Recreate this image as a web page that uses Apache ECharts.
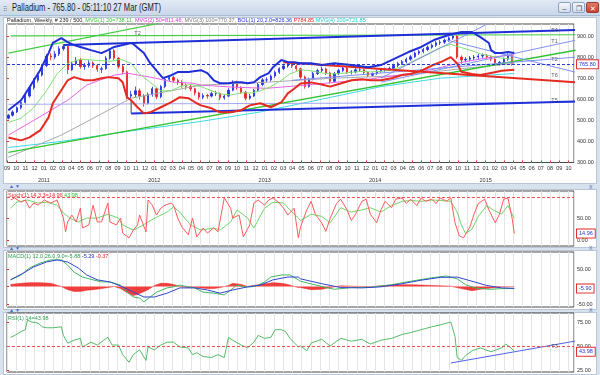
<!DOCTYPE html>
<html><head><meta charset="utf-8">
<script src="https://cdn.jsdelivr.net/npm/echarts@6/dist/echarts.min.js"></script>
<style>
body{margin:0;width:600px;height:375px;overflow:hidden;background:#d8e2ee;font-family:'Liberation Sans',Arial,sans-serif;position:relative}
#titlebar{position:absolute;left:0;top:0;width:600px;height:16px;background:linear-gradient(#e2eaf5,#c9d7ea);border-bottom:1px solid #aabbd2;box-sizing:border-box}
#ttl{position:absolute;left:12px;top:2px;font-size:10px;color:#1a1a1a;white-space:nowrap;transform:scaleX(.76);transform-origin:left top}
#grip{position:absolute;left:3px;top:5px;font-size:6px;color:#556;letter-spacing:-1px}
.btn{position:absolute;top:2px;height:11px;width:13px;border:1px solid #8ea2bf;border-radius:2px;background:linear-gradient(#f4f7fb,#d3dded);font-size:7px;line-height:11px;text-align:center;color:#445;box-sizing:border-box}
.panel{position:absolute;left:3px;width:594px;background:#fff;border:1px solid #b9c6d6;box-sizing:border-box}
.sep{position:absolute;left:9px;font-size:5px;color:#3f6fc4;letter-spacing:1px}
.cls{position:absolute;left:589px;font-size:7px;color:#5a7bb0}
#chart{position:absolute;left:0;top:0;width:600px;height:375px}
</style></head>
<body>
<div id="titlebar"><span id="grip">⠿</span><span id="ttl">Palladium - 765.80 - 05:11:10 27 Mar (GMT)</span>
<div class="btn" style="left:558px">–</div><div class="btn" style="left:572px">❐</div><div class="btn" style="left:586px;background:linear-gradient(#e07a6c,#c5402f);color:#fff;border-color:#9b3a2e">✕</div></div>
<div class="panel" style="top:17px;height:167px"></div>
<div class="panel" style="top:189px;height:59px"></div>
<div class="panel" style="top:250px;height:60px"></div>
<div class="panel" style="top:312px;height:63px"></div>
<div class="sep" style="top:183px">▲▼</div>
<div class="sep" style="top:245px">▲▼</div>
<div class="sep" style="top:307px">▲▼</div>
<div class="cls" style="top:183px">x</div>
<div class="cls" style="top:244px">x</div>
<div class="cls" style="top:306px">x</div>
<div id="chart"></div>
<script>
// ---------- DATA (week index from Sep 6 2010, values) ----------
const candles = [
[0,510,524,505,530],[2,524,540,518,548],[4,540,560,535,566],[6,560,585,552,592],[8,585,615,580,622],
[10,615,655,608,664],[12,655,690,645,700],[14,690,715,680,726],[16,715,760,708,768],[18,760,805,752,815],
[20,805,800,785,820],[22,800,815,790,828],[24,815,840,805,852],[26,840,850,830,860],[28,850,740,720,855],
[30,740,768,735,778],[32,768,786,760,800],[34,786,755,745,795],[36,755,760,740,772],[38,760,772,750,785],
[40,772,760,748,780],[42,760,742,730,768],[44,742,745,725,755],[46,745,795,740,805],[48,795,830,788,842],
[50,830,795,785,838],[52,795,755,745,800],[54,755,730,718,765],[56,730,615,600,735],[58,615,622,598,640],
[60,622,640,610,660],[62,640,615,598,650],[64,615,580,565,625],[66,580,622,575,632],[68,622,650,612,660],
[70,650,612,600,655],[72,612,660,605,668],[74,660,695,652,705],[76,695,703,685,712],[78,703,690,680,712],
[80,690,681,668,698],[82,681,668,655,690],[84,668,660,645,675],[86,660,650,638,668],[88,650,630,618,655],
[90,630,610,598,636],[92,610,618,600,628],[94,618,615,603,626],[96,615,627,608,636],[98,627,628,615,640],
[100,628,607,595,632],[102,607,615,598,622],[104,615,643,610,652],[106,643,680,638,690],[108,680,655,645,688],
[110,655,633,625,662],[112,633,605,595,640],[114,605,615,598,625],[116,615,643,610,650],[118,643,670,638,678],
[120,670,692,662,700],[122,692,692,680,705],[124,692,710,685,718],[126,710,728,702,736],[128,728,745,720,752],
[130,745,758,738,768],[132,758,770,750,780],[134,770,758,748,778],[136,758,745,735,765],[138,745,705,695,750],
[140,705,660,650,712],[142,660,695,655,702],[144,695,722,690,730],[146,722,736,715,745],[148,736,743,728,755],
[150,743,725,715,750],[152,725,685,675,730],[154,685,722,680,730],[156,722,736,715,745],[158,736,748,728,758],
[160,748,728,720,755],[162,728,730,718,738],[164,730,740,722,748],[166,740,740,730,750],[168,740,727,718,745],
[170,727,714,705,732],[172,714,722,708,728],[174,722,733,715,740],[176,733,738,726,745],[178,738,744,730,750],
[180,744,746,735,755],[182,746,760,740,768],[184,760,770,752,778],[186,770,778,762,786],[188,778,790,770,798],
[190,790,802,782,810],[192,802,819,795,826],[194,819,826,810,834],[196,826,836,818,844],[198,836,847,828,855],
[200,847,856,840,864],[202,856,868,848,876],[204,868,871,858,880],[206,871,880,862,888],[208,880,890,872,898],
[210,890,900,882,910],[212,900,800,792,905],[214,800,786,768,808],[216,786,790,775,800],[218,790,796,780,805],
[220,796,800,786,810],[222,800,805,790,815],[224,805,808,795,818],[226,808,802,792,815],[228,802,790,780,808],
[230,790,771,762,795],[232,771,775,760,782],[234,775,790,768,798],[236,790,808,782,818],[238,808,766,760,812]];

const bbUpper = [[0,548],[6,595],[10,657],[15,738],[19,819],[21,867],[25,890],[28,871],[31,857],[34,848],[39,833],[44,819],[47,833],[50,848],[54,857],[58,867],[59,862],[64,819],[67,771],[71,724],[73,700],[77,714],[80,729],[85,729],[91,738],[94,724],[97,690],[100,676],[104,676],[107,681],[110,681],[113,676],[116,681],[119,705],[123,724],[125,752],[129,786],[132,776],[135,776],[138,771],[143,771],[148,762],[154,771],[162,762],[170,752],[176,762],[182,790],[189,824],[195,848],[201,881],[208,905],[214,919],[219,919],[223,895],[227,867],[228,833],[230,819],[233,819],[236,824],[239,819]];
const bbLower = [[0,419],[2,414],[6,405],[10,419],[15,452],[19,514],[21,581],[25,643],[28,690],[31,705],[36,690],[40,690],[44,700],[47,705],[52,700],[54,681],[56,610],[58,595],[61,562],[64,533],[67,538],[72,562],[77,586],[81,610],[85,605],[89,581],[91,571],[96,557],[100,538],[105,538],[110,548],[114,571],[119,581],[124,562],[129,586],[132,628],[135,650],[138,675],[143,680],[148,670],[152,660],[157,675],[162,690],[167,695],[171,690],[176,690],[181,700],[186,715],[190,720],[195,735],[200,760],[205,780],[209,800],[212,770],[214,730],[219,720],[223,715],[228,725],[233,735],[239,740]];
const ma20 = [[0,490],[6,510],[12,560],[18,640],[23,720],[28,770],[34,790],[41,785],[48,780],[53,790],[58,770],[62,720],[67,680],[72,640],[77,640],[81,660],[86,670],[91,660],[96,640],[100,625],[105,620],[110,630],[115,630],[119,640],[124,660],[129,690],[133,720],[138,740],[143,735],[148,725],[152,720],[157,722],[162,728],[167,732],[171,730],[176,732],[181,740],[186,755],[190,775],[195,800],[200,825],[204,845],[209,860],[214,845],[219,830],[223,815],[228,805],[233,795],[239,790]];
const ma50 = [[0,430],[12,500],[28,595],[37,667],[43,690],[50,714],[56,724],[67,705],[78,681],[87,676],[91,667],[107,657],[122,652],[138,665],[154,680],[170,695],[185,715],[200,740],[214,775],[228,800],[239,811]];
const ma100 = [[0,325],[25,430],[58,605],[91,667],[122,681],[154,700],[185,712],[214,745],[239,770]];
const ma200 = [[0,371],[25,400],[58,450],[91,495],[119,540],[148,600],[176,660],[204,700],[239,722]];

// drawn trend lines: [[week, price],[week, price]]
const chanTop = [[26,857],[268,929]];
const chanBot = [[58,533],[268,590]];
const chanEdge = [[58,533],[58,595]];
const greenTop = [[1,901],[268,906]];
const greenSteep = [[0,819],[72,962]];
const greenLow = [[0,348],[268,833]];
const redTrend = [[130,776],[268,681]];
const fanA = [[176,700],[230,976]];
const fanB = [[176,681],[268,880]];
const fanC = [[207,881],[268,728]];
const fanD = [[134,690],[268,800]];
const lavender = [[0,576],[268,585]];
const lastPrice = 765.8;
const tags = [['T2',61,912],['T4',258,926],['T1',258,872],['T2',258,790],['T6',258,712],['T5',258,592]];

const stochK = [[1,93],[3,98],[6,88],[8,93],[10,74],[12,86],[14,81],[17,93],[20,86],[23,93],[26,51],[27,19],[28,42],[30,58],[32,42],[34,74],[35,28],[38,35],[40,81],[42,42],[44,42],[47,86],[48,42],[51,35],[53,51],[54,16],[57,5],[59,23],[61,35],[62,58],[65,19],[66,93],[68,81],[70,58],[72,74],[74,81],[77,86],[78,81],[80,51],[82,30],[85,12],[87,51],[89,7],[92,28],[94,16],[97,28],[99,19],[102,98],[105,74],[106,51],[109,58],[111,7],[114,35],[116,86],[118,93],[121,81],[123,93],[125,98],[128,86],[130,74],[132,58],[135,74],[137,5],[138,30],[141,70],[143,90],[145,60],[148,40],[150,20],[152,50],[155,85],[157,95],[160,70],[162,45],[164,60],[167,90],[169,95],[171,60],[174,40],[176,70],[178,90],[181,75],[183,95],[186,98],[188,85],[190,95],[193,80],[195,98],[197,90],[200,95],[202,85],[204,98],[207,90],[209,98],[211,40],[213,10],[215,5],[218,30],[220,60],[222,85],[225,95],[227,70],[230,40],[232,60],[234,95],[236,98],[238,50],[239,15]];
const stochD = [[1,74],[4,88],[9,93],[14,86],[18,88],[23,81],[26,63],[29,51],[33,42],[37,51],[42,51],[47,60],[52,51],[54,35],[59,23],[62,30],[66,42],[70,53],[75,65],[78,77],[81,65],[86,35],[91,23],[97,28],[100,23],[105,42],[108,70],[113,51],[116,28],[121,74],[125,88],[130,86],[133,70],[137,51],[138,45],[143,60],[148,55],[152,40],[157,75],[162,65],[167,70],[171,75],[176,65],[181,80],[186,90],[190,92],[195,90],[200,93],[204,92],[209,90],[212,65],[214,35],[216,15],[219,25],[222,55],[226,80],[229,70],[233,60],[236,80],[239,50]];
const stochLevel = 100, stochLast = 14.96;

const macdLine = [[1,19],[6,33],[10,53],[15,67],[20,76],[25,76],[28,61],[31,41],[35,27],[40,19],[44,13],[48,13],[53,4],[56,-16],[59,-30],[62,-33],[64,-44],[67,-30],[70,-16],[75,-4],[78,-1],[81,4],[85,-1],[88,-4],[92,-16],[97,-19],[102,-24],[105,-10],[108,4],[111,-1],[115,-1],[118,4],[121,13],[124,27],[129,33],[133,33],[137,19],[138,15],[148,0],[154,-8],[162,-3],[171,-2],[181,5],[190,15],[200,25],[207,30],[212,22],[216,5],[221,-5],[228,-8],[233,-6],[239,-5.9]];
const macdSignal = [[1,19],[7,38],[12,56],[18,70],[23,76],[28,70],[33,53],[37,33],[42,19],[48,13],[54,-1],[59,-16],[64,-30],[69,-30],[75,-19],[81,-4],[88,-4],[94,-10],[100,-19],[106,-10],[113,-1],[119,4],[125,19],[132,27],[137,27],[138,22],[148,8],[157,-3],[167,-4],[176,-1],[186,8],[195,18],[204,26],[212,27],[219,15],[226,3],[233,-4],[239,-5.3]];
const macdHist = [[1,6],[6,9],[10,11],[15,11],[20,9],[25,0],[28,-9],[31,-14],[34,-14],[37,-11],[40,-9],[44,-6],[47,-3],[50,0],[53,-6],[56,-17],[59,-26],[62,-20],[66,-9],[69,3],[72,9],[75,9],[78,6],[81,0],[85,-3],[88,-3],[91,-4],[94,-6],[97,-6],[100,-3],[104,3],[106,9],[110,6],[113,0],[116,3],[119,6],[123,9],[125,11],[129,9],[132,6],[135,0],[137,-3],[138,-3],[143,-9],[148,-8],[152,-3],[157,2],[162,1],[167,0],[171,-1],[176,2],[181,4],[186,5],[190,5],[195,4],[200,3],[204,2],[209,1],[214,-6],[219,-12],[223,-8],[228,-4],[233,-1],[239,-0.4]];
const macdLast = -5.90;

const rsi = [[1,59],[3,61],[6,65],[8,67],[9,77],[11,75],[14,74],[16,70],[18,69],[21,69],[25,70],[26,61],[28,53],[31,56],[34,58],[35,49],[39,54],[42,51],[45,56],[47,59],[49,51],[52,51],[54,41],[57,33],[59,41],[62,46],[65,35],[66,49],[69,46],[72,51],[75,54],[78,54],[81,49],[85,48],[87,41],[89,43],[92,39],[96,38],[99,41],[102,38],[104,59],[106,56],[110,51],[113,48],[116,54],[118,61],[121,58],[124,59],[126,67],[129,67],[131,65],[133,58],[137,49],[138,50],[141,45],[143,53],[148,57],[152,50],[157,58],[162,55],[167,57],[171,52],[176,56],[181,58],[186,62],[190,64],[195,67],[200,70],[204,72],[209,75],[211,60],[212,38],[214,35],[216,40],[219,45],[223,48],[228,44],[233,48],[235,52],[238,47],[239,44]];
const rsiTrend = [[209,32.3],[268,55.2]];
const rsiLevel = 50, rsiLast = 43.98;

// ---------- CHART ----------
const W2T = w => 0.15 + w * 12 / 52.18;
const P = arr => arr.map(p => [W2T(p[0]), p[1]]);
const FONT = 'Liberation Sans';

const monthLbl = v => {
  if (Math.abs(v - Math.round(v)) > 1e-6) return '';
  v = Math.round(v);
  const m = (v + 8) % 12 + 1, y = 2010 + Math.floor((v + 8) / 12);
  const mm = (m < 10 ? '0' : '') + m;
  return m === 1 ? '{m|' + mm + '}\n{y|' + y + '}' : '{m|' + mm + '}';
};

const grids = [
  {left:7, top:24, width:567, height:138.5},
  {left:7, top:191, width:567, height:55},
  {left:7, top:252, width:567, height:55},
  {left:7, top:313, width:567, height:59}
].map(g => Object.assign({show:true, borderColor:'#4a4a4a', borderWidth:1, backgroundColor:'transparent'}, g));

const xAxes = [0,1,2,3].map(i => ({
  type:'value', gridIndex:i, min:0, max:61.6, interval:1,
  axisLine:{show:false},
  axisTick:{show:i===0, inside:true, length:2, lineStyle:{color:'#e03030'}},
  axisLabel:{show:i===0, margin:2, fontSize:5.5, showMaxLabel:false, formatter:monthLbl,
    rich:{m:{fontSize:5.5, lineHeight:8, color:'#333', fontFamily:FONT}, y:{fontSize:5.5, lineHeight:16, color:'#333', fontFamily:FONT}}},
  splitLine:{show:true, lineStyle:{color:'#e4e4e4', width:1}}
}));

function yAx(i, min, max, vals){
  return {type:'value', gridIndex:i, position:'right', min:min, max:max,
    axisLine:{show:false}, splitLine:{show:false},
    axisTick:{show:true, length:2, customValues:vals, lineStyle:{color:'#e03030'}},
    axisLabel:{customValues:vals, fontSize:5.5, color:'#333', margin:3, fontFamily:FONT, formatter:v => v.toFixed(2)}};
}
const yAxes = [
  yAx(0, 300, 957, [300,400,500,600,700,800,900]),
  yAx(1, -14, 114, [0,50]),
  yAx(2, -58.6, 98.6, [-50,0,50]),
  yAx(3, 22.9, 84.4, [25,50,75])
];

const boxLabel = txt => ({position:'end', formatter:txt, color:'#2233cc', fontSize:5.5, fontFamily:FONT,
  backgroundColor:'#fff', borderColor:'#e03030', borderWidth:1, padding:[1,2], distance:3});

const L = (g, data, color, width, extra) => Object.assign({
  type:'line', xAxisIndex:g, yAxisIndex:g, data:P(data), showSymbol:false, symbol:'none',
  lineStyle:{color:color, width:width}, silent:true, z:3, clip:true
}, extra || {});

const series = [
  {type:'candlestick', xAxisIndex:0, yAxisIndex:0, dimensions:['t','open','close','lowest','highest'],
   encode:{x:'t', y:['open','close','lowest','highest']},
   data: candles.map(c => [W2T(c[0]), c[1], c[2], c[3], c[4]]), barWidth:1.8, z:2,
   itemStyle:{color:'#1f2fe0', color0:'#e52222', borderColor:'#1f2fe0', borderColor0:'#e52222', borderWidth:0.8}},
  L(0, ma200, '#3fd8e0', 1),
  L(0, ma100, '#a8a8a8', 1),
  L(0, ma50, '#e464e4', 1),
  L(0, ma20, '#80df70', 1),
  L(0, lavender, '#a4a8f2', 1),
  L(0, greenLow, '#33c433', 1.5),
  L(0, greenTop, '#44cc44', 1.2),
  L(0, greenSteep, '#44cc44', 1.2),
  L(0, fanA, '#8090f0', 1),
  L(0, fanB, '#8090f0', 1),
  L(0, fanC, '#8090f0', 1),
  L(0, fanD, '#8090f0', 1),
  L(0, chanEdge, '#444', 1),
  L(0, chanTop, '#1f2fd8', 2),
  L(0, chanBot, '#1f2fd8', 2),
  L(0, redTrend, '#e52a20', 2),
  L(0, bbLower, '#e52a20', 2),
  L(0, bbUpper, '#1f2fd8', 2, {markLine:{symbol:'none', silent:true, animation:false,
     data:[{yAxis:lastPrice}], lineStyle:{color:'#2a3ad0', type:[3,2], width:1}, label:boxLabel('765.80')}}),
  {type:'scatter', xAxisIndex:0, yAxisIndex:0, symbolSize:0, silent:true, z:5,
   data: tags.map(t => ({name:t[0], value:[W2T(t[1]), t[2]]})),
   label:{show:true, formatter:'{b}', fontSize:5.5, color:'#333', fontFamily:FONT, position:'inside'}},

  L(1, stochD, '#6fd66a', 1),
  L(1, stochK, '#ff5a5a', 1, {markLine:{symbol:'none', silent:true, animation:false, data:[
     {yAxis:stochLevel, lineStyle:{color:'#f05050', type:[3,2], width:1}, label:{show:false}},
     {yAxis:stochLast, lineStyle:{color:'transparent', width:0}, label:boxLabel('14.96')}]}}),

  L(2, macdHist, '#e82020', 0.5, {areaStyle:{color:'#ee2a2a', opacity:0.9}}),
  L(2, macdLine, '#3fb860', 1),
  L(2, macdSignal, '#3344cc', 1, {markLine:{symbol:'none', silent:true, animation:false, data:[
     {yAxis:macdLast, lineStyle:{color:'transparent', width:0}, label:boxLabel('-5.90')}]}}),

  L(3, rsiTrend, '#5060ee', 1),
  L(3, rsi, '#55bb66', 1, {markLine:{symbol:'none', silent:true, animation:false, data:[
     {yAxis:rsiLevel, lineStyle:{color:'#f05050', type:[3,2], width:1}, label:{show:false}},
     {yAxis:rsiLast, lineStyle:{color:'transparent', width:0}, label:boxLabel('43.98')}]}}),
  {type:'scatter', xAxisIndex:3, yAxisIndex:3, symbolSize:0, silent:true, z:5,
   data:[{name:'T3', value:[W2T(258), 49]}],
   label:{show:true, formatter:'{b}', fontSize:5.5, color:'#333', fontFamily:FONT, position:'inside'}}
];

const lg = (left, top, text, rich) => ({left:left, top:top, text:text, padding:0,
  textStyle:{fontSize:5.5, fontWeight:'normal', fontFamily:FONT, rich:rich}});
const mk = c => ({fontSize:5.5, color:c, fontFamily:FONT});

const option = {
  animation:false,
  backgroundColor:'transparent',
  textStyle:{fontFamily:FONT},
  title:[
    lg(7, 17, '{k|Palladium, Weekly, # 239 / 500, }{g|MVG(1) 20=738.11, }{m|MVG(2) 50=811.46, }{s|MVG(3) 100=770.37, }{b|BOL(1) 20,2.0=826.36 }{r|P784.85 }{c|MVG(4) 200=721.85}',
      {k:mk('#222'), g:mk('#33bb33'), m:mk('#cc33cc'), s:mk('#777'), b:mk('#2233cc'), r:mk('#ee2222'), c:mk('#22c8d0')}),
    lg(8, 192, '{r|Stoch(1) 14,3,3=14.96 }{g|43.98}', {r:mk('#ee3333'), g:mk('#33bb33')}),
    lg(8, 253.5, '{g|MACD(1) 12.0,26.0,9.0=-5.88 }{b|-5.29 }{r|-0.37}', {g:mk('#2f9f50'), b:mk('#2233cc'), r:mk('#ee2222')}),
    lg(8, 315, '{g|RSI(1) 14=43.98}', {g:mk('#2f9f50')})
  ],
  grid:grids, xAxis:xAxes, yAxis:yAxes, series:series
};
const chart = echarts.init(document.getElementById('chart'), null, {renderer:'canvas'});
chart.setOption(option);
</script>
</body></html>
